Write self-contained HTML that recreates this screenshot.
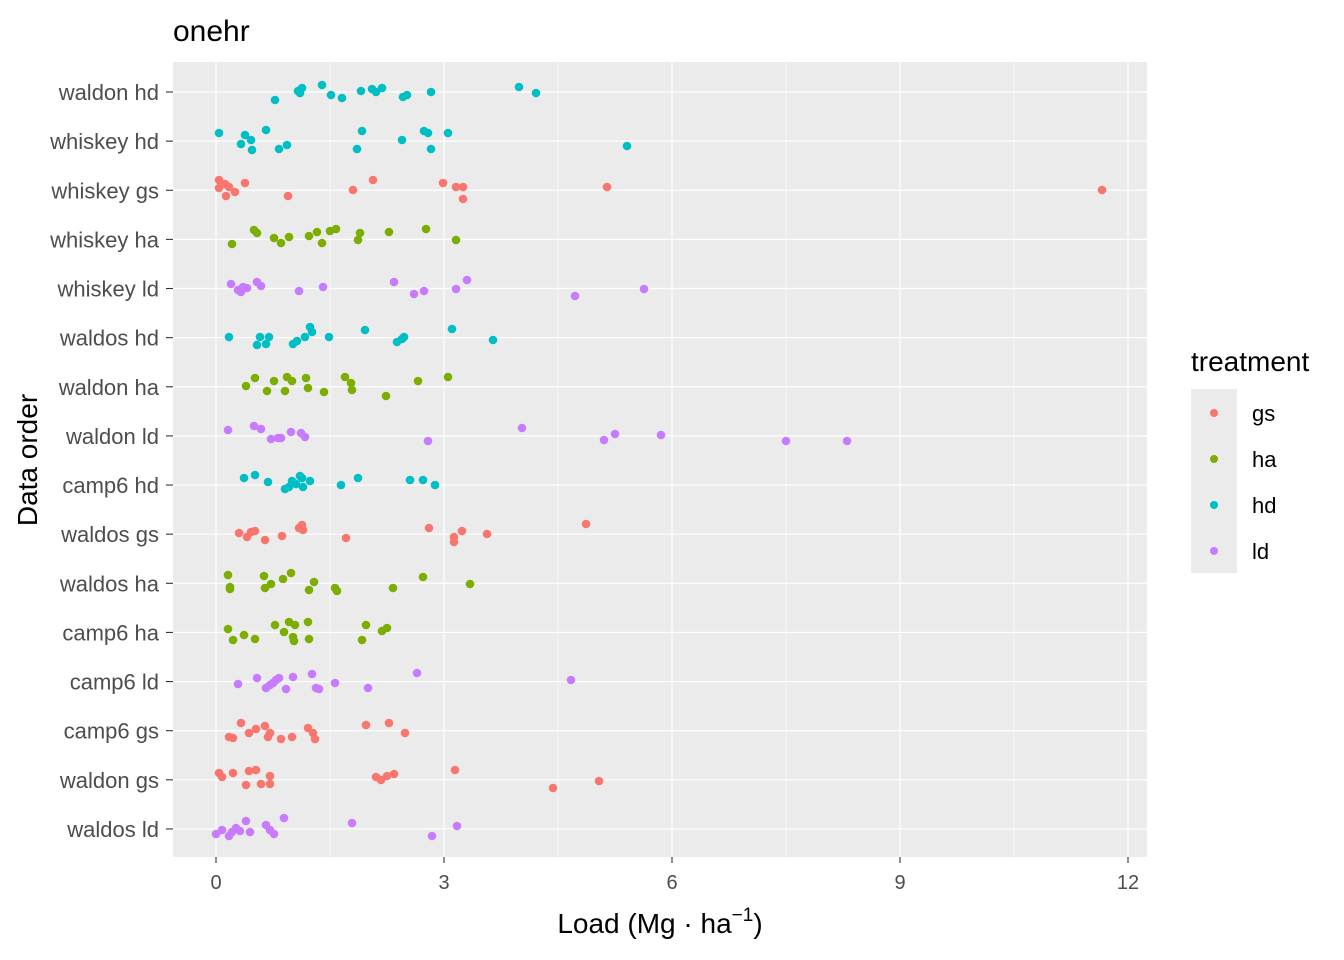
<!DOCTYPE html>
<html><head><meta charset="utf-8"><style>body{margin:0;background:#fff}svg{display:block;font-family:"Liberation Sans",Arial,sans-serif}</style></head><body>
<svg id="s" width="1344" height="960" xmlns="http://www.w3.org/2000/svg">
<rect width="1344" height="960" fill="#fff"/>
<text x="173" y="41" font-size="30" fill="#000">onehr</text>
<rect x="173" y="62" width="974" height="795" fill="#EBEBEB"/>
<g id="grid"></g>
<g id="pts"></g>
<g id="ylab" font-size="22" fill="#4D4D4D" text-anchor="end"></g>
<g font-size="20" fill="#4D4D4D" text-anchor="middle">
<text x="216" y="889">0</text><text x="444" y="889">3</text><text x="672" y="889">6</text><text x="900" y="889">9</text><text x="1128" y="889">12</text>
</g>
<text x="660" y="933" font-size="28" text-anchor="middle" fill="#000">Load (Mg · ha<tspan dy="-12" font-size="19">−1</tspan><tspan dy="12">)</tspan></text>
<text transform="translate(37,460) rotate(-90)" font-size="28" text-anchor="middle" fill="#000">Data order</text>
<text x="1191" y="371" font-size="28" fill="#000">treatment</text>
<rect x="1191" y="389" width="46" height="184" fill="#EBEBEB"/>
<circle cx="1214" cy="413" r="4" fill="#F8766D"/><circle cx="1214" cy="459" r="4" fill="#7CAE00"/><circle cx="1214" cy="505" r="4" fill="#00BFC4"/><circle cx="1214" cy="551" r="4" fill="#C77CFF"/>
<g font-size="22" fill="#000"><text x="1252" y="421">gs</text><text x="1252" y="467">ha</text><text x="1252" y="513">hd</text><text x="1252" y="559">ld</text></g>
</svg>
<script>
const C={gs:"#F8766D",ha:"#7CAE00",hd:"#00BFC4",ld:"#C77CFF"};
const rows=[
["waldon hd","hd","275,100 298,91 302,88 300,93 322,85 331,95 342,98 361,91 372,89 376,92 382,88 403,97 407,95 431,92 519,87 536,93"],
["whiskey hd","hd","219,133 241,144 245,135 251,140 252,150 266,130 279,149 287,145 357,149 362,131 402,140 424,131 428,133 431,149 448,133 627,146"],
["whiskey gs","gs","219,180 219,188 225,184 226,196 229,187 235,192 245,183 288,196 353,190 373,180 443,183 456,187 463,187 463,199 607,187 1102,190"],
["whiskey ha","ha","232,244 254,230 257,233 274,238 281,243 289,237 309,236 317,232 322,243 330,231 336,229 358,240 360,233 389,232 426,229 456,240"],
["whiskey ld","ld","231,284 238,290 241,292 243,287 247,288 257,282 261,286 299,291 323,287 394,282 414,294 424,291 456,289 467,280 575,296 644,289"],
["waldos hd","hd","229,337 257,345 260,337 266,344 269,337 293,344 297,341 305,337 310,327 312,332 329,337 365,330 397,342 402,339 404,337 452,329 493,340"],
["waldon ha","ha","246,386 255,378 267,391 274,381 285,391 287,377 292,381 306,378 308,388 324,392 345,377 351,383 352,390 386,396 418,381 448,377"],
["waldon ld","ld","228,430 254,426 261,429 271,439 278,438 281,438 291,432 301,433 305,437 428,441 522,428 604,440 615,434 661,435 786,441 847,441"],
["camp6 hd","hd","244,478 255,475 268,482 285,489 289,487 292,481 296,484 300,476 302,478 303,487 310,481 341,485 358,478 410,480 423,480 435,485"],
["waldos gs","gs","239,533 247,537 251,532 255,531 265,540 282,536 299,528 302,525 303,530 346,538 429,528 454,537 454,542 462,531 487,534 586,524"],
["waldos ha","ha","228,575 230,587 230,589 264,576 265,588 271,584 283,579 291,573 309,590 314,582 335,588 337,591 393,588 423,577 470,584"],
["camp6 ha","ha","228,629 233,640 244,635 255,639 275,625 284,632 289,622 293,637 294,641 295,625 308,622 309,639 362,640 366,625 382,631 387,628"],
["camp6 ld","ld","238,684 257,678 266,688 270,685 273,683 276,680 279,678 286,689 293,677 312,674 316,688 319,689 335,683 368,688 417,673 571,680"],
["camp6 gs","gs","229,737 233,738 241,723 249,733 256,729 265,726 268,737 270,733 281,739 292,737 308,728 313,733 315,739 366,725 389,723 405,733"],
["waldon gs","gs","219,773 222,777 233,773 246,785 249,771 256,770 261,784 270,776 270,784 376,777 381,780 387,776 394,774 455,770 553,788 599,781"],
["waldos ld","ld","216,834 222,830 229,836 232,832 236,828 240,831 246,821 250,832 266,825 270,830 274,834 284,818 352,823 432,836 457,826"]];
let g="",p="",l="";
[1.5,4.5,7.5,10.5].forEach(v=>{const x=216+76*v;g+=`<line x1="${x}" x2="${x}" y1="62" y2="857" stroke="#fff" stroke-width="0.6"/>`});
[0,3,6,9,12].forEach(v=>{const x=216+76*v;g+=`<line x1="${x}" x2="${x}" y1="62" y2="857" stroke="#fff" stroke-width="1.2"/><line x1="${x}" x2="${x}" y1="857" y2="863" stroke="#333" stroke-width="1.1"/>`});
rows.forEach((r,i)=>{const y=92+i*49.13;
g+=`<line x1="173" x2="1147" y1="${y}" y2="${y}" stroke="#fff" stroke-width="1.2"/><line x1="166" x2="173" y1="${y}" y2="${y}" stroke="#333" stroke-width="1.1"/>`;
l+=`<text x="159" y="${y+8}">${r[0]}</text>`;
r[2].split(" ").forEach(s=>{const [x,yy]=s.split(",");p+=`<circle cx="${x}" cy="${yy}" r="4.3" fill="${C[r[1]]}"/>`});});
document.getElementById("grid").innerHTML=g;document.getElementById("pts").innerHTML=p;document.getElementById("ylab").innerHTML=l;
</script>
</body></html>
